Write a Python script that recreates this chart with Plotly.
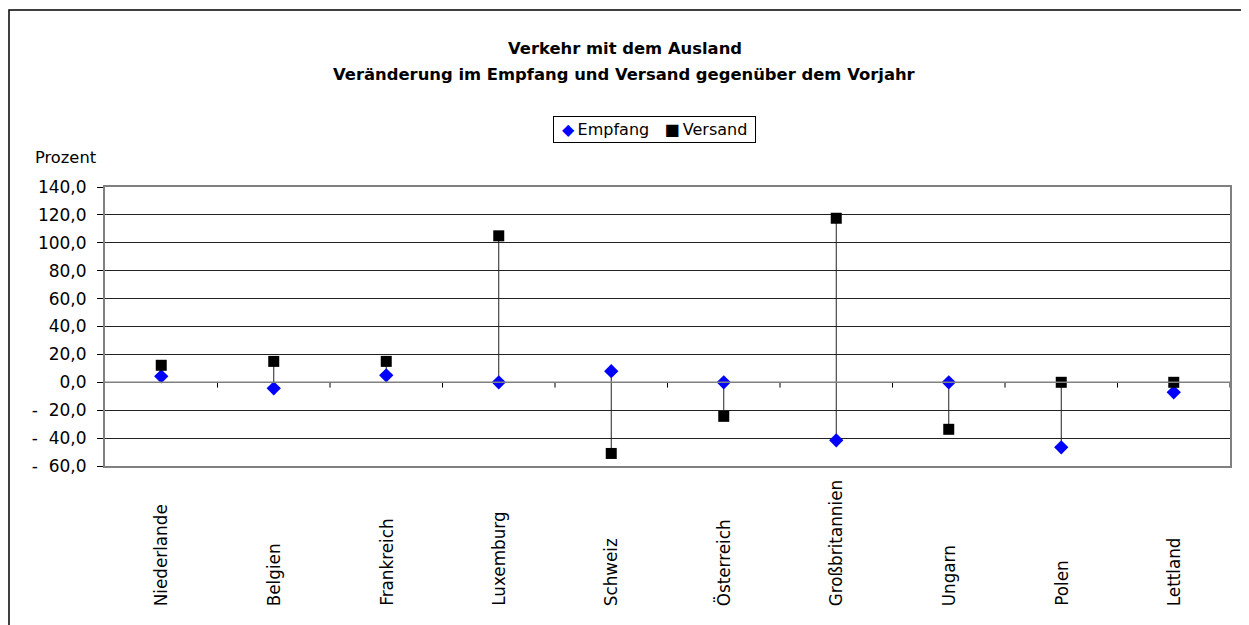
import plotly.graph_objects as go

laender = ["Niederlande", "Belgien", "Frankreich", "Luxemburg", "Schweiz",
           "Österreich", "Großbritannien", "Ungarn", "Polen", "Lettland"]
empfang = [4.3, -4.3, 5.0, 0.0, 8.0, 0.0, -41.6, 0.0, -46.6, -7.2]
versand = [12.2, 15.0, 15.0, 105.0, -51.0, -24.4, 117.6, -33.7, 0.0, 0.0]
y_ticks = [140, 120, 100, 80, 60, 40, 20, 0, -20, -40, -60]
y_labels = ["140,0", "120,0", "100,0", "80,0", "60,0", "40,0", "20,0", "0,0",
            "-\u00a0\u00a020,0", "-\u00a0\u00a040,0", "-\u00a0\u00a060,0"]

schrift = "DejaVu Sans"
pos = list(range(len(laender)))
fig = go.Figure()

# Verbindungslinien zwischen Empfang und Versand
lx, ly = [], []
for i in pos:
    lx += [i, i, None]
    ly += [empfang[i], versand[i], None]
fig.add_trace(go.Scatter(x=lx, y=ly, mode="lines", line=dict(color="#222222", width=1),
                         showlegend=False, hoverinfo="skip"))

fig.add_trace(go.Scatter(x=pos, y=empfang, mode="markers", name="Empfang", showlegend=False,
                         marker=dict(symbol="diamond", size=11, color="#0000ff")))
fig.add_trace(go.Scatter(x=pos, y=versand, mode="markers", name="Versand", showlegend=False,
                         marker=dict(symbol="square", size=11, color="#000000")))

# Teilstriche an der Nulllinie zwischen den Kategorien
shapes = []
for i in pos:
    shapes.append(dict(type="line", xref="x", yref="y", x0=i + 0.5, x1=i + 0.5, y0=0, y1=-3.8,
                       line=dict(color="#000000", width=1)))
shapes.append(dict(type="line", xref="paper", yref="y", x0=0, x1=1, y0=0, y1=0,
                   line=dict(color="#808080", width=1.5)))
# Rahmen um das ganze Diagramm
shapes.append(dict(type="rect", xref="paper", yref="paper", x0=(1 - 97) / 1125, x1=1.05,
                   y0=-0.7, y1=1.634, line=dict(color="#000000", width=1.5), layer="below"))

annotations = [
    dict(text="<b>Verkehr mit dem Ausland</b>", xref="paper", yref="paper",
         x=0.4618, y=(466 - 48) / 279, xanchor="center", yanchor="middle", showarrow=False,
         font=dict(size=16.4)),
    dict(text="<b>Veränderung im Empfang und Versand gegenüber dem Vorjahr</b>", xref="paper",
         yref="paper", x=0.4618, y=(466 - 74) / 279, xanchor="center", yanchor="middle",
         showarrow=False, font=dict(size=16.4)),
    dict(text="Prozent", xref="paper", yref="paper", x=-0.064, y=(466 - 157) / 279,
         xanchor="left", yanchor="middle", showarrow=False, font=dict(size=16.3)),
    dict(text="\u00a0<span style='color:#0000ff'>◆</span>\u2009Empfang\u00a0\u00a0\u00a0■\u2009Versand\u00a0",
         xref="paper", yref="paper", x=(654 - 105) / 1125, y=(466 - 129.5) / 279,
         xanchor="center", yanchor="middle", showarrow=False, font=dict(size=16),
         bordercolor="#000000", borderwidth=1, borderpad=3, bgcolor="white"),
]
for i, name in enumerate(laender):
    annotations.append(dict(text=name, xref="x", yref="paper", x=i, y=(466 - 608) / 279,
                            xanchor="center", yanchor="bottom", textangle=-90,
                            showarrow=False, font=dict(size=16.8)))

fig.update_layout(
    width=1249, height=625,
    margin=dict(l=97, r=27, t=179, b=167, autoexpand=False),
    paper_bgcolor="white", plot_bgcolor="white",
    font=dict(family=schrift, size=16, color="black"),
    showlegend=False,
    shapes=shapes,
    annotations=annotations,
    xaxis=dict(range=[-0.5, len(laender) - 0.5], showticklabels=False, ticks="",
               showgrid=False, zeroline=False, showline=True, linecolor="#808080",
               linewidth=2, mirror=True),
    yaxis=dict(range=[-60, 140], tickvals=y_ticks, ticktext=y_labels, ticks="outside",
               ticklen=6, tickcolor="black", ticklabelstandoff=7, showgrid=True,
               gridcolor="#222222", gridwidth=1, zeroline=False, showline=True,
               linecolor="#808080", linewidth=2, mirror=True, tickfont=dict(size=17)),
)

fig.write_html("out.html")
